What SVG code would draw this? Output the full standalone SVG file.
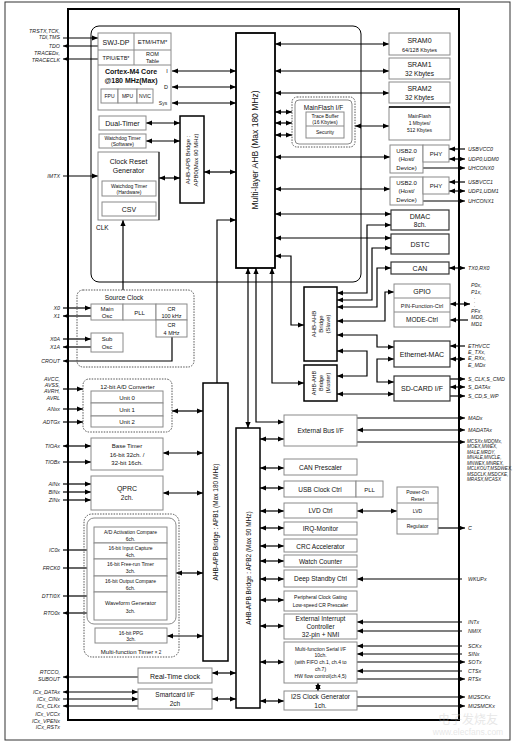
<svg xmlns="http://www.w3.org/2000/svg" width="518" height="743" viewBox="0 0 518 743">
<style>
text{font-family:"Liberation Sans",Arial,sans-serif;fill:#111}
.t{text-anchor:middle}
.f8{font-size:8.5px}.f7{font-size:7px}.f65{font-size:6.5px}.f6{font-size:6px}.f55{font-size:5.5px}.f5{font-size:5px}
.bd{font-weight:bold}
.pl{font-size:5.3px;font-style:italic;text-anchor:end;fill:#222}
.pr{font-size:5.3px;font-style:italic;text-anchor:start;fill:#222}
.ps{font-size:4.6px}
.g{fill:#fff;stroke:#8a8a8a;stroke-width:1}
.k{fill:#fff;stroke:#000;stroke-width:1.5}
.kg{fill:#fff;stroke:#333;stroke-width:1.2}
.ln{stroke:#8a8a8a;stroke-width:1;fill:none}
.dot{fill:none;stroke:#555;stroke-width:1;stroke-dasharray:1.5 1.2}
.c{stroke:#000;stroke-width:1.2;fill:none}
.e{marker-end:url(#a)}
.s{marker-start:url(#a)}
.d{marker-start:url(#a);marker-end:url(#a)}
</style>
<defs>
<marker id="a" markerUnits="userSpaceOnUse" markerWidth="6" markerHeight="6" viewBox="0 0 6 6" refX="6" refY="3" orient="auto-start-reverse"><path d="M0,0.4 L6,3 L0,5.6 z" fill="#000"/></marker>
</defs>
<rect x="0" y="0" width="518" height="743" fill="#fff"/>
<rect x="5" y="2" width="505" height="738" fill="none" stroke="#333" stroke-width="1"/>
<rect x="68" y="9" width="391" height="711" fill="none" stroke="#000" stroke-width="2"/>
<rect id="cpu-region" x="91" y="26" width="270" height="256" rx="8" fill="none" stroke="#000" stroke-width="1"/>

<g id="connectors">
<path class="c e" d="M63,38H98"/>
<path class="c e" d="M98,46H63"/>
<path class="c e" d="M98,59H63"/>
<path class="c e" d="M63,176H98"/>
<path class="c e" d="M63,308H91"/>
<path class="c e" d="M91,316H63"/>
<path class="c e" d="M63,339H91"/>
<path class="c e" d="M91,347H63"/>
<path class="c e" d="M172,337V361H63"/>
<path class="c e" d="M63,389H83"/>
<path class="c e" d="M63,409H83"/>
<path class="c e" d="M63,422H83"/>
<path class="c d" d="M63,446H91"/>
<path class="c e" d="M63,462H91"/>
<path class="c e" d="M63,484H91"/>
<path class="c e" d="M63,492H91"/>
<path class="c e" d="M63,500H91"/>
<path class="c e" d="M63,550H94"/>
<path class="c e" d="M63,568H94"/>
<path class="c e" d="M63,596H94"/>
<path class="c e" d="M94,613H63"/>
<path class="c e" d="M138,677H63"/>
<path class="c d" d="M63,692H138"/>
<path class="c e" d="M63,699H138"/>
<path class="c e" d="M138,706H63"/>
<path class="c d" d="M172,71H236"/>
<path class="c d" d="M172,87H236"/>
<path class="c d" d="M172,103H236"/>
<path class="c d" d="M146,123H180"/>
<path class="c d" d="M146,141H180"/>
<path class="c d" d="M159,178H180"/>
<path class="c d" d="M204,172H236"/>
<path class="c e" d="M123,290V220"/>
<path class="c e" d="M217,383V220H236"/>
<path class="c d" d="M275,44H389"/>
<path class="c d" d="M275,71H389"/>
<path class="c d" d="M275,93H389"/>
<path class="c d" d="M275,112H292"/>
<path class="c d" d="M275,123H292"/>
<path class="c d" d="M275,135H292"/>
<path class="c d" d="M355,126H389"/>
<path class="c d" d="M275,157H390"/>
<path class="c d" d="M275,189H390"/>
<path class="c d" d="M275,214H391"/>
<path class="c d" d="M275,238H391"/>
<path class="c d" d="M275,256H291V325H304"/>
<path class="c d" d="M248,268V428"/>
<path class="c d" d="M256,268V422H284"/>
<path class="c d" d="M272,268V383H304"/>
<path class="c d" d="M391,225H367V293H337"/>
<path class="c d" d="M391,248H372V300H337"/>
<path class="c d" d="M391,268H377V307H337"/>
<path class="c d" d="M394,292H385V321H337"/>
<path class="c d" d="M337,335H377V347H394"/>
<path class="c d" d="M337,351H367V376H337"/>
<path class="c d" d="M394,359H377V382H394"/>
<path class="c d" d="M337,394H394"/>
<path class="c e" d="M465,149H449"/>
<path class="c d" d="M449,159H465"/>
<path class="c e" d="M423,168H465"/>
<path class="c e" d="M465,182H449"/>
<path class="c d" d="M449,191H465"/>
<path class="c e" d="M423,201H465"/>
<path class="c d" d="M449,268H465"/>
<path class="c d" d="M450,304H470"/>
<path class="c e" d="M468,320H450"/>
<path class="c e" d="M465,346H450"/>
<path class="c d" d="M450,359H465"/>
<path class="c e" d="M450,379H465"/>
<path class="c d" d="M450,387H465"/>
<path class="c e" d="M450,396H465"/>
<path class="c d" d="M260,439H284"/>
<path class="c e" d="M357,418H465"/>
<path class="c d" d="M357,430H465"/>
<path class="c e" d="M357,442H465"/>
<path class="c d" d="M260,468H284"/>
<path class="c d" d="M260,488H284"/>
<path class="c d" d="M260,511H284"/>
<path class="c d" d="M357,511H397"/>
<path class="c e" d="M438,528H465"/>
<path class="c d" d="M260,528H284"/>
<path class="c d" d="M260,546H284"/>
<path class="c d" d="M260,561H284"/>
<path class="c d" d="M260,579H284"/>
<path class="c e" d="M462,579H357"/>
<path class="c d" d="M260,600H284"/>
<path class="c d" d="M260,626H284"/>
<path class="c e" d="M462,622H357"/>
<path class="c e" d="M462,631H357"/>
<path class="c d" d="M260,662H284"/>
<path class="c e" d="M462,646H357"/>
<path class="c e" d="M462,654H357"/>
<path class="c e" d="M357,662H465"/>
<path class="c e" d="M462,671H357"/>
<path class="c e" d="M357,679H465"/>
<path class="c d" d="M318,683V691"/>
<path class="c d" d="M260,701H284"/>
<path class="c e" d="M357,697H465"/>
<path class="c e" d="M357,706H465"/>
<path class="c d" d="M172,411H203"/>
<path class="c d" d="M163,453H203"/>
<path class="c d" d="M163,493H203"/>
<path class="c d" d="M176,573H203"/>
<path class="c d" d="M167,636H203"/>
<path class="c d" d="M212,673H236"/>
<path class="c d" d="M212,699H236"/>
</g>

<g id="core">
<rect class="g" x="98" y="33" width="73" height="77"/>
<path class="ln" d="M134,33V65M98,50H171M98,65H171"/>
<text class="t f7" x="116" y="44.5">SWJ-DP</text>
<text class="t f6" x="152.5" y="44">ETM/HTM*</text>
<text class="t f55" x="116" y="60">TPIU/ETB*</text>
<text class="t f55" x="152.5" y="56">ROM</text>
<text class="t f55" x="152.5" y="63">Table</text>
<text class="t f7 bd" x="131" y="73.5">Cortex-M4  Core</text>
<text class="t f7 bd" x="131" y="82.5">@180 MHz(Max)</text>
<rect class="g" x="101" y="89" width="17" height="14"/>
<rect class="g" x="118" y="89" width="19" height="14"/>
<rect class="g" x="137" y="89" width="16" height="14"/>
<text class="t f5" x="109.5" y="98">FPU</text>
<text class="t f5" x="127.5" y="98">MPU</text>
<text class="t f5" x="145" y="98">NVIC</text>
<text class="t f55" x="167" y="73">I</text>
<text class="t f55" x="166" y="89">D</text>
<text class="t f5" x="163" y="105">Sys</text>
</g>
<g id="dual-timer"><rect class="g" x="99" y="116" width="47" height="14"/><text class="t f7" x="122.5" y="125.5">Dual-Timer</text></g>
<g id="wdt-sw"><rect class="g" x="99" y="134" width="47" height="14"/><text class="t f5" x="122.5" y="140">Watchdog Timer</text><text class="t f5" x="122.5" y="146">(Software)</text></g>
<g id="crg">
<rect class="g" x="98" y="152" width="61" height="68"/>
<path d="M159,152V220" stroke="#000" stroke-width="1"/>
<text class="t f7" x="128.5" y="164">Clock Reset</text>
<text class="t f7" x="128.5" y="173">Generator</text>
<rect class="g" x="102" y="181" width="54" height="15"/>
<text class="t f5" x="129" y="187.5">Watchdog Timer</text>
<text class="t f5" x="129" y="194">(Hardware)</text>
<rect class="g" x="102" y="202" width="54" height="14"/>
<text class="t f7" x="129" y="211.5">CSV</text>
<text class="f65" x="96" y="230">CLK</text>
</g>
<g id="apb0"><rect class="k" x="180" y="116" width="24" height="87"/>
<g transform="translate(192,160) rotate(-90)"><text class="t f6" x="0" y="-2">AHB-APB Bridge :</text><text class="t f6" x="0" y="6">APB0(Max 90 MHz)</text></g></g>
<g id="ahb"><rect x="236" y="33" width="39" height="235" fill="#fff" stroke="#000" stroke-width="1.8"/>
<text class="t f8" transform="translate(258,150) rotate(-90)">Multi-layer AHB (Max 180 MHz)</text></g>

<g id="sram0"><rect class="g" x="389" y="33" width="61" height="22"/><text class="t f7" x="419.5" y="43">SRAM0</text><text class="t f55" x="419.5" y="51.5">64/128 Kbytes</text></g>
<g id="sram1"><rect class="g" x="389" y="58" width="61" height="21"/><text class="t f7" x="419.5" y="67">SRAM1</text><text class="t f65" x="419.5" y="76">32 Kbytes</text></g>
<g id="sram2"><rect class="g" x="389" y="82" width="61" height="21"/><text class="t f7" x="419.5" y="91">SRAM2</text><text class="t f65" x="419.5" y="100">32 Kbytes</text></g>
<g id="mainflash"><rect class="g" x="389" y="107" width="61" height="33"/><path d="M389,107H450" stroke="#000" stroke-width="1.5"/>
<text class="t f5" x="419.5" y="118">MainFlash</text><text class="t f5" x="419.5" y="125">1 Mbytes/</text><text class="t f5" x="419.5" y="132">512 Kbytes</text></g>
<g id="mainflash-if"><rect class="dot" x="292" y="97" width="63" height="50" rx="5"/><rect class="g" x="295" y="100" width="57" height="44" rx="4"/>
<text class="t f65" x="323.5" y="109.5">MainFlash I/F</text>
<rect class="g" x="306" y="112" width="38" height="26"/><path class="ln" d="M306,126H344"/>
<text class="t f5" x="325" y="118">Trace Buffer</text><text class="t f5" x="325" y="124">(16 Kbytes)</text><text class="t f5" x="325" y="134">Security</text></g>
<g id="usb0"><rect class="g" x="390" y="145" width="33" height="28"/><rect class="g" x="423" y="145" width="26" height="17"/>
<text class="t f6" x="406.5" y="153">USB2.0</text><text class="t f6" x="406.5" y="161">(Host/</text><text class="t f6" x="406.5" y="169.5">Device)</text><text class="t f6" x="436" y="156">PHY</text></g>
<g id="usb1"><rect class="g" x="390" y="177" width="33" height="28"/><rect class="g" x="423" y="177" width="26" height="17"/>
<text class="t f6" x="406.5" y="185">USB2.0</text><text class="t f6" x="406.5" y="193">(Host/</text><text class="t f6" x="406.5" y="201.5">Device)</text><text class="t f6" x="436" y="188">PHY</text></g>
<g id="dmac"><rect class="kg" x="391" y="210" width="58" height="20"/><text class="t f7" x="420" y="218.5">DMAC</text><text class="t f65" x="420" y="227">8ch.</text></g>
<g id="dstc"><rect class="kg" x="391" y="234" width="58" height="20"/><text class="t f7" x="420" y="246.5">DSTC</text></g>
<g id="can"><rect class="kg" x="391" y="262" width="58" height="12"/><text class="t f7" x="420" y="270.5">CAN</text></g>
<g id="gpio"><rect class="g" x="394" y="284" width="56" height="43"/><path class="ln" d="M394,298H450M394,312H450"/>
<text class="t f7" x="422" y="294">GPIO</text><text class="t f55" x="422" y="307.5">PIN-Function-Ctrl</text><text class="t f65" x="422" y="322">MODE-Ctrl</text></g>
<g id="ethernet"><rect class="kg" x="394" y="341" width="56" height="26"/><text class="t f7" x="422" y="356.5">Ethernet-MAC</text></g>
<g id="sdcard"><rect class="kg" x="394" y="376" width="56" height="25"/><text class="t f7" x="422" y="391">SD-CARD I/F</text></g>
<g id="bridge-slave"><rect class="k" x="304" y="287" width="33" height="74"/>
<g transform="translate(320.5,324) rotate(-90)"><text class="t f6" x="0" y="-5">AHB-AHB</text><text class="t f6" x="0" y="2">Bridge</text><text class="t f6" x="0" y="9">(Slave)</text></g></g>
<g id="bridge-master"><rect class="k" x="304" y="365" width="33" height="36"/>
<g transform="translate(320.5,383) rotate(-90)"><text class="t f55" x="0" y="-5">AHB-AHB</text><text class="t f55" x="0" y="2">Bridge</text><text class="t f55" x="0" y="9">(Master)</text></g></g>

<g id="source-clock"><rect class="dot" x="77" y="290" width="117" height="77" rx="6"/>
<text class="t f65" x="124" y="300">Source Clock</text>
<rect class="g" x="91" y="304" width="32" height="16"/><text class="t f6" x="107" y="310.5">Main</text><text class="t f6" x="107" y="318">Osc</text>
<rect class="g" x="123" y="304" width="33" height="16"/><text class="t f6" x="139.5" y="314.5">PLL</text>
<rect class="g" x="156" y="304" width="31" height="16"/><text class="t f55" x="171.5" y="310.5">CR</text><text class="t f55" x="171.5" y="318">100 kHz</text>
<rect class="g" x="156" y="320" width="31" height="17"/><text class="t f55" x="171.5" y="327">CR</text><text class="t f55" x="171.5" y="334.5">4 MHz</text>
<rect class="g" x="91" y="333" width="32" height="19"/><text class="t f6" x="107" y="341">Sub</text><text class="t f6" x="107" y="349">Osc</text></g>

<g id="adc"><rect class="dot" x="83" y="379" width="89" height="53" rx="6"/>
<text class="t f6" x="127.5" y="389">12-bit A/D Converter</text>
<rect class="g" x="91" y="391" width="72" height="12"/><text class="t f6" x="127" y="399.5">Unit 0</text>
<rect class="g" x="91" y="403" width="72" height="13"/><text class="t f6" x="127" y="412">Unit 1</text>
<rect class="g" x="91" y="416" width="72" height="11"/><text class="t f6" x="127" y="424">Unit 2</text></g>
<g id="base-timer"><rect class="g" x="91" y="438" width="72" height="32"/>
<text class="t f6" x="127" y="448">Base Timer</text><text class="t f6" x="127" y="456.5">16-bit 32ch. /</text><text class="t f6" x="127" y="465">32-bit 16ch.</text></g>
<g id="qprc"><rect class="g" x="91" y="476" width="72" height="34"/><text class="t f7" x="127" y="490.5">QPRC</text><text class="t f65" x="127" y="499.5">2ch.</text></g>
<g id="mft"><rect class="dot" x="84" y="514" width="95" height="143" rx="8"/>
<rect class="g" x="87" y="518" width="89" height="106" rx="7"/>
<rect class="g" x="94" y="527" width="73" height="16"/><text class="t f5" x="130.5" y="534">A/D Activation Compare</text><text class="t f5" x="130.5" y="541">6ch.</text>
<rect class="g" x="94" y="543" width="73" height="16"/><text class="t f5" x="130.5" y="550">16-bit Input Capture</text><text class="t f5" x="130.5" y="557">4ch.</text>
<rect class="g" x="94" y="559" width="73" height="17"/><text class="t f5" x="130.5" y="566">16-bit Free-run Timer</text><text class="t f5" x="130.5" y="573">3ch.</text>
<rect class="g" x="94" y="576" width="73" height="16"/><text class="t f5" x="130.5" y="583">16-bit Output Compare</text><text class="t f5" x="130.5" y="590">6ch.</text>
<rect class="g" x="94" y="592" width="73" height="28"/><text class="t f55" x="130.5" y="605">Waveform Generator</text><text class="t f5" x="130.5" y="613">3ch.</text>
<rect class="g" x="95" y="628" width="72" height="15"/><text class="t f5" x="131" y="634.5">16-bit PPG</text><text class="t f5" x="131" y="641">3ch.</text>
<text class="t f6" x="131" y="653.5">Multi-function Timer <tspan font-size="4.5">× 2</tspan></text></g>
<g id="apb1"><rect class="k" x="203" y="383" width="25" height="278"/>
<text class="t f65" transform="translate(218,522) rotate(-90)">AHB-APB Bridge : APB1 (Max 180 MHz)</text></g>
<g id="apb2"><rect class="k" x="236" y="428" width="24" height="280"/>
<text class="t f65" transform="translate(250.5,568) rotate(-90)">AHB-APB Bridge : APB2 (Max 90 MHz)</text></g>
<g id="rtc"><rect class="g" x="138" y="668" width="74" height="15"/><text class="t f7" x="175" y="678.5">Real-Time clock</text></g>
<g id="smartcard"><rect class="g" x="138" y="689" width="74" height="20"/><text class="t f65" x="175" y="697">Smartcard I/F</text><text class="t f65" x="175" y="706">2ch</text></g>

<g id="ext-bus"><rect class="g" x="284" y="415" width="73" height="31"/><text class="t f65" x="320.5" y="433">External Bus I/F</text></g>
<g id="can-prescaler"><rect class="g" x="284" y="459" width="73" height="16"/><text class="t f65" x="320.5" y="469.5">CAN Prescaler</text></g>
<g id="usb-clock"><rect class="g" x="284" y="481" width="72" height="16"/><rect class="g" x="356" y="481" width="27" height="16"/><text class="t f65" x="320" y="491.5">USB Clock Ctrl</text><text class="t f6" x="369.5" y="491.5">PLL</text></g>
<g id="lvd-ctrl"><rect class="g" x="284" y="503" width="73" height="15"/><text class="t f65" x="320.5" y="513">LVD Ctrl</text></g>
<g id="power"><rect class="g" x="397" y="487" width="41" height="47"/><path class="ln" d="M397,503H438M397,519H438"/>
<text class="t f5" x="417.5" y="494">Power-On</text><text class="t f5" x="417.5" y="500.5">Reset</text><text class="t f5" x="417.5" y="513">LVD</text><text class="t f5" x="417.5" y="528">Regulator</text></g>
<g id="irq"><rect class="g" x="284" y="522" width="73" height="13"/><text class="t f65" x="320.5" y="531">IRQ-Monitor</text></g>
<g id="crc"><rect class="g" x="284" y="539" width="73" height="13"/><text class="t f65" x="320.5" y="548.5">CRC Accelerator</text></g>
<g id="watch"><rect class="g" x="284" y="555" width="73" height="12"/><text class="t f65" x="320.5" y="563.5">Watch Counter</text></g>
<g id="deep-standby"><rect class="g" x="284" y="570" width="73" height="17"/><text class="t f65" x="320.5" y="581">Deep Standby Ctrl</text></g>
<g id="pcg"><rect class="g" x="284" y="591" width="73" height="20"/><text class="t f5" x="320.5" y="599">Peripheral Clock Gating</text><text class="t f5" x="320.5" y="606.5">Low-speed CR Prescaler</text></g>
<g id="eic"><rect class="g" x="284" y="614" width="73" height="25"/><text class="t f65" x="320.5" y="620.5">External Interrupt</text><text class="t f65" x="320.5" y="628.5">Controller</text><text class="t f65" x="320.5" y="636.5">32-pin + NMI</text></g>
<g id="mfs"><rect class="g" x="284" y="642" width="73" height="41"/>
<text class="t f5" x="320.5" y="650.5">Multi-function Serial I/F</text><text class="t f5" x="320.5" y="657">10ch.</text><text class="t f5" x="320.5" y="664">(with FIFO ch.1, ch.4 to</text><text class="t f5" x="320.5" y="670.5">ch.7)</text><text class="t f5" x="320.5" y="678">HW flow control(ch.4,5)</text></g>
<g id="i2s"><rect class="g" x="284" y="691" width="73" height="19"/><text class="t f65" x="320.5" y="699">I2S Clock Generator</text><text class="t f65" x="320.5" y="707.5">1ch.</text></g>

<g id="pins-left">
<text class="pl" x="60" y="33">TRSTX,TCK,</text><text class="pl" x="60" y="39">TDI,TMS</text>
<text class="pl" x="60" y="48" font-style="normal">TDO</text>
<text class="pl" x="60" y="55">TRACEDx,</text><text class="pl" x="60" y="61.5">TRACECLK</text>
<text class="pl" x="60" y="178">IMTX</text>
<text class="pl" x="60" y="310">X0</text><text class="pl" x="60" y="318">X1</text>
<text class="pl" x="60" y="341">X0A</text><text class="pl" x="60" y="349">X1A</text>
<text class="pl" x="60" y="363">CROUT</text>
<text class="pl" x="60" y="381">AVCC,</text><text class="pl" x="60" y="387">AVSS,</text><text class="pl" x="60" y="393">AVRH,</text><text class="pl" x="60" y="400">AVRL</text>
<text class="pl" x="60" y="411">ANxx</text><text class="pl" x="60" y="424">ADTGx</text>
<text class="pl" x="60" y="448">TIOAx</text><text class="pl" x="60" y="464">TIOBx</text>
<text class="pl" x="60" y="486">AINx</text><text class="pl" x="60" y="494">BINx</text><text class="pl" x="60" y="502">ZINx</text>
<text class="pl" x="60" y="552">IC0x</text><text class="pl" x="60" y="570">FRCK0</text><text class="pl" x="60" y="598">DTTI0X</text><text class="pl" x="60" y="615">RTO0x</text>
<text class="pl" x="60" y="674">RTCCO,</text><text class="pl" x="60" y="680.5">SUBOUT</text>
<text class="pl" x="60" y="694">ICx_DATAx</text><text class="pl" x="60" y="701">ICx_CINx</text><text class="pl" x="60" y="708">ICx_CLKx</text><text class="pl" x="60" y="716">ICx_VCCx</text><text class="pl" x="60" y="722.5">ICx_VPENx</text><text class="pl" x="60" y="729">ICx_RSTx</text>
</g>
<g id="pins-right">
<text class="pr" x="468" y="151">USBVCC0</text><text class="pr" x="468" y="161">UDP0,UDM0</text><text class="pr" x="468" y="170">UHCONX0</text>
<text class="pr" x="468" y="184">USBVCC1</text><text class="pr" x="468" y="193">UDP1,UDM1</text><text class="pr" x="468" y="203">UHCONX1</text>
<text class="pr" x="468" y="270">TX0,RX0</text>
<text class="pr" x="471" y="287">P0x,</text><text class="pr" x="471" y="294">P1x,</text>
<text class="pr" x="474" y="299">.</text><text class="pr" x="474" y="303">.</text><text class="pr" x="474" y="307">.</text>
<text class="pr" x="471" y="313">PFx</text><text class="pr" x="471" y="319">MD0,</text><text class="pr" x="471" y="325.5">MD1</text>
<text class="pr" x="468" y="348">ETHVCC</text><text class="pr" x="468" y="354">E_TXx,</text><text class="pr" x="468" y="360">E_RXx,</text><text class="pr" x="468" y="366.5">E_MDx</text>
<text class="pr" x="468" y="381">S_CLK,S_CMD</text><text class="pr" x="468" y="389">S_DATAx</text><text class="pr" x="468" y="398">S_CD,S_WP</text>
<text class="pr" x="468" y="420">MADx</text><text class="pr" x="468" y="432">MADATAx</text>
<text class="pr ps" x="467" y="442.5">MCSXx,MDQMx,</text><text class="pr ps" x="467" y="448">MOEX,MWEX,</text><text class="pr ps" x="467" y="453.5">MALE,MRDY,</text><text class="pr ps" x="467" y="459">MNALE,MNCLE,</text><text class="pr ps" x="467" y="464.5">MNWEX,MNREX,</text><text class="pr ps" x="467" y="470">MCLKOUT,MSDWEX,</text><text class="pr ps" x="467" y="475.5">MSDCLK,MSDCKE,</text><text class="pr ps" x="467" y="481">MRASX,MCASX</text>
<text class="pr" x="468" y="530">C</text>
<text class="pr" x="468" y="581">WKUPx</text>
<text class="pr" x="468" y="624">INTx</text><text class="pr" x="468" y="633">NMIX</text>
<text class="pr" x="468" y="648">SCKx</text><text class="pr" x="468" y="656">SINx</text><text class="pr" x="468" y="664">SOTx</text><text class="pr" x="468" y="673">CTSx</text><text class="pr" x="468" y="681">RTSx</text>
<text class="pr" x="468" y="699">MI2SCKx</text><text class="pr" x="468" y="708">MI2SMCKx</text>
</g>
<g id="watermark" opacity="0.35">
<text x="468" y="724" text-anchor="middle" font-size="12" fill="#bbb" style="font-family:'Noto Sans CJK SC',sans-serif;fill:#bbb">电子发烧友</text>
<text x="468" y="735" text-anchor="middle" font-size="8.5" fill="#bbb" style="fill:#bbb">www.elecfans.com</text>
</g>
</svg>
